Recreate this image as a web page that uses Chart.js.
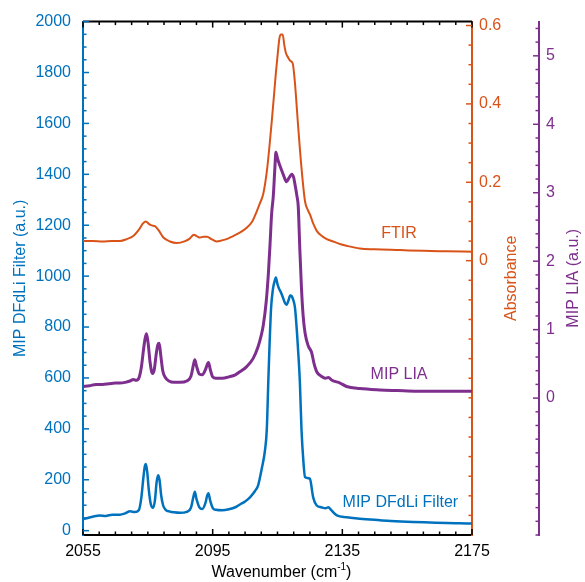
<!DOCTYPE html>
<html>
<head>
<meta charset="utf-8">
<script src="https://cdn.jsdelivr.net/npm/chart.js@4.4.1/dist/chart.umd.min.js"></script>
<style>
  html, body { margin: 0; padding: 0; background: #fff; }
</style>
</head>
<body>
<canvas id="espectros" width="585" height="582"></canvas>
<script>
// FTIR absorbance (right orange axis)
const ftirX = [2055, 2058, 2061, 2064, 2066.4, 2068.5, 2070.5, 2072.3, 2073.5, 2074.4, 2075.3, 2076.2, 2077.2, 2078.3, 2079.8, 2081.8, 2083.9, 2086.5, 2088, 2089.2, 2090.2, 2091.1, 2092.2, 2093.3, 2094.6, 2096.2, 2098.5, 2101.4, 2103.5, 2105.5, 2107.2, 2108.6, 2109.5, 2110.6, 2111.7, 2112.5, 2113.2, 2113.9, 2114.5, 2115.1, 2115.6, 2116.1, 2116.6, 2117.1, 2117.6, 2118.3, 2118.9, 2119.7, 2120.2, 2120.7, 2121.3, 2121.9, 2122.7, 2123.5, 2124.3, 2125, 2126, 2127.1, 2128.5, 2130.2, 2132.5, 2134.5, 2136.3, 2140.4, 2145, 2152.8, 2160, 2167, 2175];
const ftirY = [0.05, 0.05, 0.049, 0.05, 0.05, 0.055, 0.063, 0.08, 0.095, 0.1, 0.094, 0.09, 0.088, 0.078, 0.059, 0.049, 0.045, 0.05, 0.057, 0.066, 0.062, 0.059, 0.061, 0.061, 0.055, 0.049, 0.053, 0.063, 0.072, 0.084, 0.1, 0.126, 0.145, 0.17, 0.227, 0.29, 0.353, 0.42, 0.479, 0.53, 0.568, 0.577, 0.577, 0.55, 0.53, 0.518, 0.51, 0.503, 0.47, 0.42, 0.35, 0.286, 0.21, 0.151, 0.13, 0.118, 0.095, 0.076, 0.064, 0.055, 0.048, 0.042, 0.038, 0.031, 0.029, 0.027, 0.025, 0.024, 0.023];

// MIP LIA (right purple axis)
const liaX = [2055, 2057, 2059, 2061, 2063, 2065, 2066.4, 2068, 2069.5, 2070.5, 2071.5, 2072.3, 2073, 2073.7, 2074.2, 2074.6, 2075.1, 2075.7, 2076.4, 2077, 2077.6, 2078.1, 2078.5, 2079, 2079.6, 2080.4, 2081.5, 2083, 2085, 2087, 2088.3, 2089, 2089.5, 2090, 2090.9, 2091.8, 2092.8, 2093.4, 2093.7, 2094.3, 2095, 2096, 2098, 2100, 2102, 2103.4, 2105.5, 2107.5, 2109, 2110, 2110.6, 2111.5, 2112.2, 2112.7, 2113.2, 2113.7, 2114.2, 2114.5, 2115, 2115.7, 2116.5, 2117.3, 2117.8, 2118.6, 2119.4, 2120, 2120.4, 2121, 2121.4, 2121.9, 2122.4, 2122.9, 2123.5, 2124.5, 2125.5, 2126.3, 2127.1, 2128.5, 2129.8, 2130.7, 2131.8, 2134.3, 2136.3, 2140.4, 2146.6, 2152, 2158, 2164, 2170, 2175];
const liaY = [0.17, 0.18, 0.2, 0.2, 0.21, 0.22, 0.22, 0.23, 0.25, 0.27, 0.26, 0.3, 0.45, 0.72, 0.88, 0.94, 0.8, 0.52, 0.36, 0.42, 0.65, 0.78, 0.8, 0.62, 0.4, 0.3, 0.25, 0.23, 0.23, 0.25, 0.32, 0.47, 0.56, 0.47, 0.35, 0.34, 0.42, 0.5, 0.52, 0.41, 0.31, 0.29, 0.29, 0.31, 0.34, 0.385, 0.46, 0.58, 0.75, 0.92, 1.06, 1.4, 1.83, 2.25, 2.7, 2.95, 3.37, 3.59, 3.5, 3.4, 3.3, 3.2, 3.16, 3.22, 3.27, 3.22, 3.12, 2.95, 2.8, 2.16, 1.6, 1.21, 0.95, 0.76, 0.67, 0.5, 0.385, 0.32, 0.29, 0.3, 0.26, 0.22, 0.17, 0.14, 0.12, 0.11, 0.1, 0.1, 0.1, 0.1];

// MIP DFdLi filter (left blue axis)
const dfdliX = [2055, 2056.5, 2058, 2060.2, 2062, 2064, 2066.4, 2068, 2069.5, 2071, 2072.2, 2073, 2073.6, 2074.1, 2074.4, 2074.8, 2075.3, 2075.9, 2076.6, 2077.2, 2077.7, 2078.2, 2078.6, 2079.1, 2079.7, 2080.5, 2081.8, 2083, 2085, 2087, 2088.3, 2089, 2089.5, 2090, 2090.9, 2091.8, 2092.8, 2093.3, 2093.7, 2094.2, 2095, 2096, 2098, 2100, 2102, 2103.4, 2105, 2106.5, 2108, 2109, 2110.2, 2111.1, 2111.7, 2112.2, 2113, 2113.6, 2114.1, 2114.5, 2115, 2115.5, 2116.1, 2116.7, 2117.3, 2117.8, 2118.4, 2118.9, 2119.4, 2119.9, 2120.4, 2121, 2121.5, 2121.9, 2122.4, 2123, 2123.5, 2124.2, 2125, 2126, 2127.1, 2128.5, 2129.8, 2130.7, 2131.5, 2133.3, 2136.3, 2140.4, 2146.6, 2150, 2156.8, 2162, 2167.2, 2171, 2175];
const dfdliY = [45, 50, 55, 60, 58, 63, 63, 68, 76, 73, 80, 130, 205, 255, 262, 232, 160, 105, 90, 120, 190, 218, 200, 140, 100, 82, 75, 72, 70, 74, 90, 130, 153, 125, 92, 85, 110, 138, 147, 120, 90, 82, 80, 84, 92, 103, 115, 131, 155, 177, 247, 312, 398, 600, 870, 950, 980, 995, 968, 950, 935, 915, 895, 888, 905, 924, 921, 905, 875, 780, 680, 584, 398, 270, 210, 207, 204, 131, 99, 92, 88, 92, 82, 60, 53, 47, 41, 38, 34, 32, 30, 29, 28];

// labelled (major) ticks
const xLabels = [2055, 2095, 2135, 2175];
const blueLabels = [0, 200, 400, 600, 800, 1000, 1200, 1400, 1600, 1800, 2000];
const absLabels = [0, 0.2, 0.4, 0.6];
const liaLabels = [0, 1, 2, 3, 4, 5];

const azul = '#0072BD';
const naranja = '#D95319';
const morado = '#7E2F8E';
const familia = "'Liberation Sans', Arial, sans-serif";

const near = (list, v) => list.some(t => Math.abs(t - v) < 1e-6);
const puntos = (xs, ys) => xs.map((x, i) => ({ x: x, y: ys[i] }));

// curve names placed in data space
const nombres = [
  { text: 'FTIR', color: naranja, axis: 'yAbs', x: 2152.5, y: 0.068 },
  { text: 'MIP LIA', color: morado, axis: 'yLia', x: 2152.5, y: 0.35 },
  { text: 'MIP DFdLi Filter', color: azul, axis: 'yBlue', x: 2152.9, y: 111 }
];

const decorado = {
  id: 'decorado',
  afterDraw(chart) {
    const { ctx, chartArea: a } = chart;
    const s = chart.scales;
    ctx.save();

    // top frame line
    ctx.strokeStyle = '#000';
    ctx.lineWidth = 2;
    ctx.beginPath();
    ctx.moveTo(a.left, a.top);
    ctx.lineTo(a.right, a.top);
    ctx.stroke();

    ctx.lineWidth = 1.5;
    const marcas = (scale, majors, color, fn) => {
      ctx.strokeStyle = color;
      scale.ticks.forEach(t => {
        const p = scale.getPixelForValue(t.value);
        const len = near(majors, t.value) ? 6 : 3.5;
        ctx.beginPath();
        fn(p, len);
        ctx.stroke();
      });
    };
    marcas(s.x, xLabels, '#000', (p, l) => { ctx.moveTo(p, a.bottom); ctx.lineTo(p, a.bottom - l); });
    marcas(s.x, xLabels, '#000', (p, l) => { ctx.moveTo(p, a.top); ctx.lineTo(p, a.top + l); });
    marcas(s.yBlue, blueLabels, azul, (p, l) => { ctx.moveTo(a.left, p); ctx.lineTo(a.left + l, p); });
    marcas(s.yAbs, absLabels, naranja, (p, l) => { ctx.moveTo(a.right, p); ctx.lineTo(a.right - l, p); });
    const xl = s.yLia.left;
    marcas(s.yLia, liaLabels, morado, (p, l) => { ctx.moveTo(xl, p); ctx.lineTo(xl - l, p); });

    // axis titles
    const mid = (a.top + a.bottom) / 2;
    ctx.font = '16px ' + familia;
    ctx.textAlign = 'center';
    ctx.textBaseline = 'middle';
    const vertical = (text, x, color) => {
      ctx.save();
      ctx.translate(x, mid);
      ctx.rotate(-Math.PI / 2);
      ctx.fillStyle = color;
      ctx.fillText(text, 0, 0);
      ctx.restore();
    };
    vertical('MIP DFdLi Filter (a.u.)', s.yBlue.left + 21, azul);
    vertical('Absorbance', s.yAbs.left + 40, naranja);
    vertical('MIP LIA (a.u.)', s.yLia.left + 35, morado);

    // x title with superscript
    const base = 'Wavenumber (cm';
    const sup = '-1';
    ctx.fillStyle = '#000';
    ctx.textAlign = 'left';
    ctx.font = '16px ' + familia;
    const w1 = ctx.measureText(base).width;
    const w3 = ctx.measureText(')').width;
    ctx.font = '10px ' + familia;
    const w2 = ctx.measureText(sup).width;
    const x0 = (a.left + a.right) / 2 + 4 - (w1 + w2 + w3) / 2;
    const yT = a.bottom + 38;
    ctx.font = '16px ' + familia;
    ctx.fillText(base, x0, yT);
    ctx.fillText(')', x0 + w1 + w2, yT);
    ctx.font = '10px ' + familia;
    ctx.fillText(sup, x0 + w1, yT - 6);

    // series names
    ctx.font = '16px ' + familia;
    ctx.textAlign = 'center';
    nombres.forEach(n => {
      ctx.fillStyle = n.color;
      ctx.fillText(n.text, s.x.getPixelForValue(n.x), s[n.axis].getPixelForValue(n.y));
    });
    ctx.restore();
  }
};

const tickFont = { family: familia, size: 16 };

new Chart(document.getElementById('espectros').getContext('2d'), {
  type: 'line',
  data: {
    datasets: [
      { label: 'MIP DFdLi Filter', data: puntos(dfdliX, dfdliY), yAxisID: 'yBlue', borderColor: azul, borderWidth: 2.5 },
      { label: 'MIP LIA', data: puntos(liaX, liaY), yAxisID: 'yLia', borderColor: morado, borderWidth: 3 },
      { label: 'FTIR', data: puntos(ftirX, ftirY), yAxisID: 'yAbs', borderColor: naranja, borderWidth: 2 }
    ]
  },
  options: {
    responsive: false,
    animation: false,
    devicePixelRatio: 1,
    layout: { padding: { top: 15, left: 0, right: 0, bottom: 0 } },
    elements: {
      point: { radius: 0 },
      line: { cubicInterpolationMode: 'monotone', fill: false }
    },
    plugins: { legend: { display: false }, tooltip: { enabled: false } },
    scales: {
      x: {
        type: 'linear', position: 'bottom', min: 2055, max: 2175,
        afterFit: sc => { sc.height = 47; },
        grid: { display: false, drawTicks: false },
        border: { display: true, color: '#000', width: 2 },
        ticks: {
          stepSize: 5, includeBounds: false, autoSkip: false, maxRotation: 0, minRotation: 0, padding: 7,
          color: '#000', font: tickFont,
          callback: v => near(xLabels, v) ? String(v) : ''
        }
      },
      yBlue: {
        type: 'linear', position: 'left', min: -17, max: 2000,
        afterFit: sc => { sc.width = 83; },
        grid: { display: false, drawTicks: false },
        border: { display: true, color: azul, width: 2 },
        ticks: {
          stepSize: 50, includeBounds: false, autoSkip: false, padding: 12, color: azul, font: tickFont,
          callback: v => near(blueLabels, v) ? String(v) : ''
        }
      },
      yAbs: {
        type: 'linear', position: 'right', weight: 0, min: -0.70, max: 0.61,
        afterFit: sc => { sc.width = 67; },
        grid: { display: false, drawTicks: false },
        border: { display: true, color: naranja, width: 2 },
        ticks: {
          stepSize: 0.05, includeBounds: false, autoSkip: false, padding: 7, color: naranja, font: tickFont,
          callback: v => near(absLabels, v) ? (Math.abs(v) < 1e-9 ? '0' : v.toFixed(1)) : ''
        }
      },
      yLia: {
        type: 'linear', position: 'right', weight: 1, min: -2, max: 5.5,
        afterFit: sc => { sc.width = 46; },
        grid: { display: false, drawTicks: false },
        border: { display: true, color: morado, width: 2 },
        ticks: {
          stepSize: 0.2, includeBounds: false, autoSkip: false, padding: 7, color: morado, font: tickFont,
          callback: v => near(liaLabels, v) ? String(Math.round(v)) : ''
        }
      }
    }
  },
  plugins: [decorado]
});
</script>
</body>
</html>
